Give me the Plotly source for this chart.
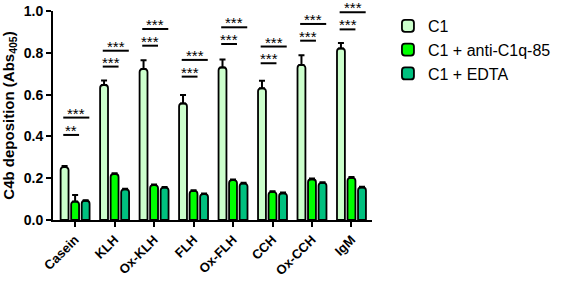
import plotly.graph_objects as go

categories = ["Casein", "KLH", "Ox-KLH", "FLH", "Ox-FLH", "CCH", "Ox-CCH", "IgM"]
series_names = ["C1", "C1 + anti-C1q-85", "C1 + EDTA"]
c1 = [0.253, 0.646, 0.722, 0.558, 0.730, 0.630, 0.742, 0.821]
c1_err = [0.005, 0.022, 0.042, 0.040, 0.038, 0.036, 0.046, 0.026]
anti = [0.088, 0.220, 0.167, 0.139, 0.191, 0.135, 0.195, 0.202]
anti_err = [0.032, 0.004, 0.003, 0.003, 0.003, 0.003, 0.003, 0.004]
edta = [0.092, 0.147, 0.155, 0.124, 0.175, 0.128, 0.178, 0.156]
edta_err = [0.003, 0.003, 0.003, 0.003, 0.003, 0.003, 0.003, 0.003]
sig_short_y = [0.407, 0.734, 0.834, 0.686, 0.842, 0.750, 0.858, 0.912]
sig_long_y = [0.490, 0.810, 0.914, 0.766, 0.922, 0.830, 0.938, 0.994]
sig_short_txt = ["**", "***", "***", "***", "***", "***", "***", "***"]
sig_long_txt = ["***"] * 8
y_ticks = [0.0, 0.2, 0.4, 0.6, 0.8, 1.0]

colors = ["#ccffcc", "#00ff00", "#00c07f"]
xs = list(range(len(categories)))
FONT = "Liberation Sans, Arial"

fig = go.Figure()
for name, vals, errs, col in zip(series_names, [c1, anti, edta], [c1_err, anti_err, edta_err], colors):
    fig.add_trace(go.Bar(
        x=xs, y=vals, name=name,
        marker=dict(color=col, line=dict(color="black", width=1.8), cornerradius=3),
        error_y=dict(type="data", symmetric=False, array=errs, arrayminus=[0] * len(errs),
                     color="black", thickness=2, width=3),
    ))

shapes = []
annotations = []
for i in xs:
    for yv, x0, x1, txt in [(sig_short_y[i], i - 0.30, i + 0.10, sig_short_txt[i]),
                            (sig_long_y[i], i - 0.30, i + 0.36, sig_long_txt[i])]:
        shapes.append(dict(type="line", xref="x", yref="y", x0=x0, x1=x1, y0=yv, y1=yv,
                           line=dict(color="black", width=2)))
        annotations.append(dict(x=(x0 + x1) / 2, y=yv, xref="x", yref="y", text=txt,
                                showarrow=False, yanchor="bottom", yshift=-6,
                                font=dict(family=FONT, size=15, color="black")))

fig.update_layout(
    width=561, height=284,
    margin=dict(l=53, r=189, t=11, b=64, autoexpand=False),
    paper_bgcolor="white", plot_bgcolor="white",
    barmode="group", bargap=0.2, bargroupgap=0.25,
    font=dict(family=FONT, color="black"),
    shapes=shapes, annotations=annotations,
    legend=dict(x=1.05, y=1.01, xanchor="left", yanchor="top",
                font=dict(size=16), tracegroupgap=0),
    showlegend=True,
)
fig.update_xaxes(
    range=[-0.56, 7.52], tickvals=xs, ticktext=categories, tickangle=-45,
    showline=True, linecolor="black", linewidth=2, ticks="outside", ticklen=5,
    tickwidth=2, tickcolor="black", showgrid=False, zeroline=False,
    tickfont=dict(size=13, weight="bold"), automargin=False,
)
fig.update_yaxes(
    range=[0, 1.0], tickvals=y_ticks, ticktext=[f"{v:.1f}" for v in y_ticks],
    showline=True, linecolor="black", linewidth=2, ticks="outside", ticklen=5,
    tickwidth=2, tickcolor="black", showgrid=False, zeroline=False,
    tickfont=dict(size=14, weight="bold"), automargin=False,
    title=dict(text="C4b deposition (Abs<sub>405</sub>)", font=dict(size=15, weight="bold"), standoff=6),
)
fig.write_html("out.html", config={"displayModeBar": False},
               post_script="document.body.style.margin='0';document.body.style.overflow='hidden';")
